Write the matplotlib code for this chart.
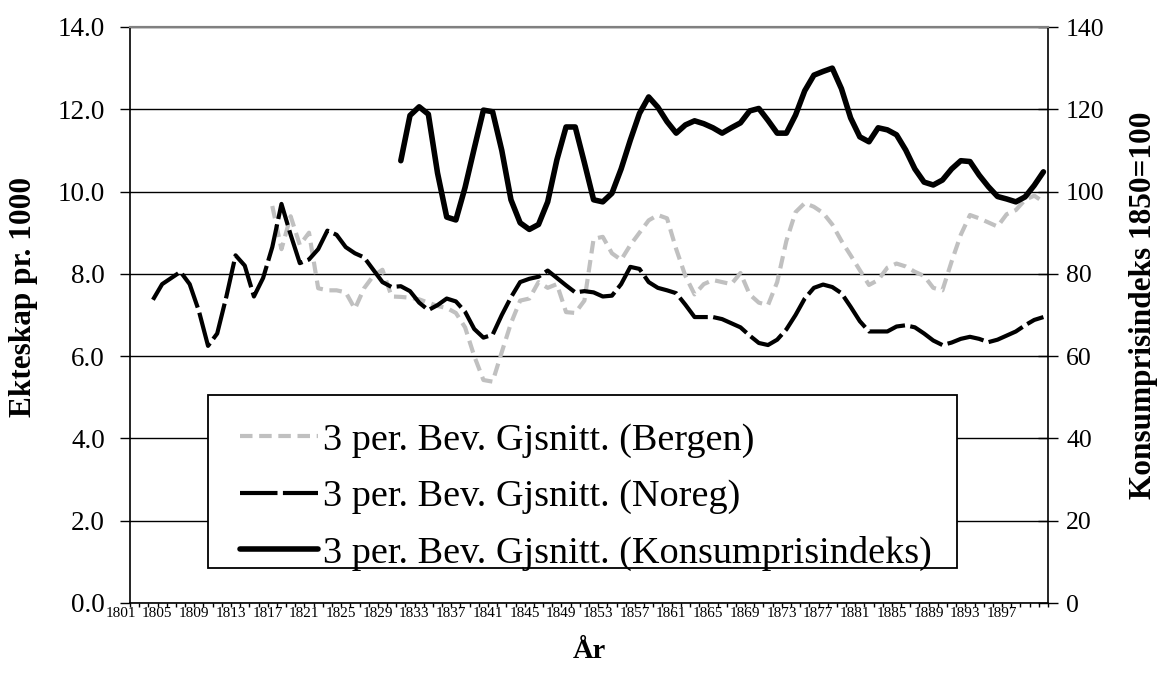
import matplotlib
matplotlib.use("Agg")
import matplotlib.pyplot as plt
import matplotlib.transforms as mtransforms
from matplotlib.patches import Rectangle
import numpy as np

plt.rcParams['font.family'] = ['Liberation Serif', 'DejaVu Serif']

# ---------------- data ----------------
noreg_start = 1803
noreg = [7.37, 7.75, 7.9, 8.05, 7.75, 7.1, 6.25, 6.55, 7.45, 8.45,
         8.2, 7.45, 7.9, 8.65, 9.7, 8.95, 8.26, 8.35, 8.6, 9.05,
         8.95, 8.65, 8.5, 8.4, 8.1, 7.8, 7.68, 7.7, 7.58, 7.3,
         7.12, 7.24, 7.4, 7.33, 7.08, 6.66, 6.45, 6.52, 7.0, 7.43,
         7.8, 7.88, 7.93, 8.08, 7.9, 7.72, 7.55, 7.58, 7.55, 7.45,
         7.47, 7.75, 8.17, 8.12, 7.8, 7.66, 7.6, 7.53, 7.25, 6.95,
         6.95, 6.95, 6.9, 6.8, 6.7, 6.5, 6.32, 6.27, 6.4, 6.65,
         7.0, 7.4, 7.66, 7.74, 7.68, 7.53, 7.2, 6.85, 6.6, 6.6,
         6.6, 6.72, 6.75, 6.7, 6.55, 6.38, 6.27, 6.33, 6.42, 6.47,
         6.42, 6.34, 6.4, 6.5, 6.6, 6.75, 6.88, 6.95]

bergen_start = 1816
bergen = [9.65, 8.6, 9.4, 8.7, 9.0, 7.65, 7.6, 7.6, 7.55, 7.15,
          7.65, 7.95, 8.1, 7.45, 7.44, 7.42, 7.38, 7.3, 7.22, 7.17,
          7.05, 6.7, 6.0, 5.42, 5.38, 6.1, 6.8, 7.35, 7.4, 7.8,
          7.66, 7.75, 7.07, 7.05, 7.35, 8.85, 8.9, 8.5, 8.34, 8.7,
          9.0, 9.3, 9.43, 9.35, 8.6, 7.95, 7.5, 7.75, 7.85, 7.8,
          7.75, 8.02, 7.5, 7.3, 7.24, 7.8, 8.8, 9.5, 9.72, 9.63,
          9.48, 9.2, 8.8, 8.45, 8.09, 7.73, 7.85, 8.15, 8.25, 8.18,
          8.05, 7.95, 7.66, 7.6, 8.3, 8.95, 9.43, 9.35, 9.25, 9.15,
          9.45, 9.55, 9.8, 9.9, 9.75]

kpi_start = 1830
kpi = [107.5, 118.5, 120.6, 118.8, 104.5, 93.8, 93.1, 101.0, 110.5, 119.8,
       119.4, 110.0, 98.0, 92.4, 90.8, 92.0, 97.5, 107.7, 115.7, 115.7,
       107.0, 98.0, 97.5, 99.6, 105.5, 112.5, 119.0, 123.0, 120.5, 117.0,
       114.2, 116.2, 117.2, 116.5, 115.5, 114.2, 115.5, 116.7, 119.6, 120.2,
       117.3, 114.2, 114.2, 118.6, 124.5, 128.3, 129.2, 130.0, 125.0, 117.9,
       113.3, 112.1, 115.5, 115.0, 113.8, 110.1, 105.5, 102.3, 101.6, 102.8,
       105.5, 107.5, 107.3, 104.0, 101.2, 98.8, 98.2, 97.5, 98.7, 101.5,
       104.8]

first_year, last_year = 1801, 1900
label_years = list(range(1801, 1898, 4))
left_ticks = [0, 2, 4, 6, 8, 10, 12, 14]
right_ticks = [0, 20, 40, 60, 80, 100, 120, 140]

labels = ["3 per. Bev. Gjsnitt. (Bergen)",
          "3 per. Bev. Gjsnitt. (Noreg)",
          "3 per. Bev. Gjsnitt. (Konsumprisindeks)"]

# ---------------- figure ----------------
W, H = 1162, 675
fig = plt.figure(figsize=(W / 100, H / 100), dpi=100)
ax = fig.add_axes([130 / W, 1 - 603 / H, 918 / W, 576 / H])
ax2 = ax.twinx()

ny = np.arange(noreg_start, noreg_start + len(noreg))
by = np.arange(bergen_start, bergen_start + len(bergen))
ky = np.arange(kpi_start, kpi_start + len(kpi))

l_b, = ax.plot(by, bergen, color='#c0c0c0', lw=3.0, dashes=(3.0, 1.6),
               dash_capstyle='butt', zorder=3)
l_n, = ax.plot(ny, noreg, color='black', lw=3.0, dashes=(9, 1.3),
               dash_capstyle='butt', zorder=4)
l_k, = ax2.plot(ky, kpi, color='black', lw=4.0, solid_capstyle='round',
                solid_joinstyle='round', zorder=4)

ax.set_xlim(first_year - 0.5, last_year + 0.5)
ax.set_ylim(0, 14)
ax2.set_ylim(0, 140)

# y axes
ax.set_yticks(left_ticks)
ax.set_yticklabels([f"{v:.1f}" for v in left_ticks], fontsize=19.5)
ax.tick_params(axis='y', direction='out', length=7, width=1.0, pad=11)
ax2.set_yticks(right_ticks)
ax2.set_yticklabels([str(v) for v in right_ticks], fontsize=18.5)
ax2.tick_params(axis='y', direction='inout', length=14, width=1.0, pad=6)

ax.yaxis.grid(True, color='black', lw=1.0)
ax.set_axisbelow(True)

# x axis
ax.set_xticks(label_years)
ax.set_xticklabels([str(y) for y in label_years], fontsize=11)
ax.tick_params(axis='x', which='major', length=0, pad=3)
ax.set_xticks(np.arange(first_year - 0.5, last_year + 1.0, 1.0), minor=True)
ax.tick_params(axis='x', which='minor', direction='out', length=3, width=1.0)
shift = mtransforms.ScaledTranslation(-14 / 100, 0, fig.dpi_scale_trans)
for lab in ax.get_xticklabels():
    lab.set_transform(lab.get_transform() + shift)

# spines
for a in (ax, ax2):
    a.spines['top'].set_color('#808080')
    a.spines['top'].set_linewidth(1.5)
ax.spines['right'].set_visible(False)
ax2.spines['left'].set_visible(False)
ax2.spines['bottom'].set_visible(False)
ax.spines['left'].set_linewidth(1.2)
ax.spines['bottom'].set_linewidth(1.2)
ax2.spines['right'].set_linewidth(1.2)

# axis titles
fig.text(24 / W, 1 - 297 / H, "Ekteskap pr. 1000", rotation=90, ha='center',
         va='center', fontsize=22.5, fontweight='bold')
fig.text(1143 / W, 1 - 305 / H, "Konsumprisindeks 1850=100", rotation=90,
         ha='center', va='center', fontsize=22.5, fontweight='bold')
fig.text(589 / W, 1 - 652 / H, "År", ha='center', va='center', fontsize=20.5,
         fontweight='bold')

# legend
fig.patches.append(Rectangle((208 / W, 1 - 568 / H), 749 / W, 173 / H,
                             transform=fig.transFigure, facecolor='white',
                             edgecolor='black', lw=1.3, zorder=4))
leg = fig.legend([l_b, l_n, l_k], labels, loc='upper left',
                 bbox_to_anchor=(240 / W, 1 - 423 / H),
                 bbox_transform=fig.transFigure, frameon=False,
                 fontsize=27.5, handlelength=2.05, handletextpad=0.12,
                 labelspacing=0.56, borderpad=0.0, borderaxespad=0.0)
leg.set_zorder(5)

fig.savefig("out.png", dpi=100)
